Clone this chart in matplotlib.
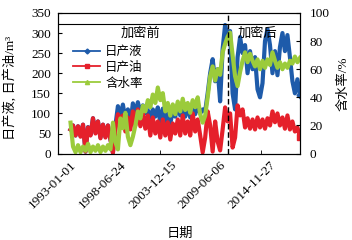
import numpy as np
import pandas as pd
import matplotlib
matplotlib.use('Agg')
import matplotlib.pyplot as plt
import matplotlib.dates as mdates
from matplotlib.lines import Line2D

plt.rcParams['font.family'] = ['Liberation Serif', 'Noto Sans CJK SC']
plt.rcParams['font.size'] = 9.5

# sampled every 100 days from 1993-01-01 (band high/low readings)
dates = pd.date_range('1993-01-01', periods=93, freq='100D')

liquid = [60, 70, 45, 68, 44, 72, 5, 66, 46, 88, 52, 80, 40, 72, 42, 70, 36,
          3, 70, 118, 95, 122, 85, 110, 75, 125, 100, 128, 102, 120, 100,
          108, 90, 110, 92, 115, 78, 112, 80, 110, 75, 105,
          92, 122, 95, 125, 92, 118, 90, 125, 98, 120,
          100, 110, 105, 150, 200, 235, 180, 210, 130,
          260, 320, 290, 305, 150, 110, 240, 290, 250, 270,
          200, 255, 210, 240, 160, 140, 175, 280, 310, 270,
          200, 255, 195, 265, 300, 255, 295, 240, 180, 150, 185, 145]

oil = [60, 70, 45, 68, 42, 72, 5, 65, 45, 88, 50, 80, 38, 72, 40, 70, 35,
       2, 60, 98, 85, 95, 55, 90, 60, 105, 70, 110, 68, 100, 62,
       95, 45, 90, 50, 80, 40, 85, 45, 78, 35, 75, 50, 85,
       45, 95, 50, 80, 45, 100, 55, 85, 45, 3, 40, 105, 70,
       5, 80, 30, 8, 60, 115, 80, 100, 15, 40, 120, 95, 110,
       65, 88, 62, 85, 60, 90, 65, 85, 62, 88, 70,
       105, 78, 100, 70, 90, 62, 95, 60, 80, 55, 65, 42]

water_cut = [22, 5, 1, 6, 1, 5, 2, 7, 1, 5, 2, 6, 1, 5, 2, 6, 3,
             22, 8, 3, 25, 18, 29, 12, 6, 12, 20, 30, 25, 34, 30,
             38, 33, 42, 36, 47, 38, 43, 30, 36, 27, 35, 28,
             37, 30, 39, 31, 36, 29, 38, 33, 40, 28, 22, 27,
             40, 55, 62, 52, 60, 56, 72, 78, 83, 86, 70, 55, 48, 58,
             66, 72, 65, 71, 66, 62, 67, 60, 66, 61, 67, 63,
             72, 66, 61, 65, 60, 64, 61, 66, 64, 69, 65, 68]

series_labels = ['日产液', '日产油', '含水率']
period_labels = ['加密前', '加密后']
infill_date = pd.Timestamp('2010-05-01')
tick_dates = pd.to_datetime(['1993-01-01', '1998-06-24', '2003-12-15',
                             '2009-06-06', '2014-11-27'])

c_blue = '#1E5BAA'
c_red = '#E5202B'
c_green = '#9BCB3B'

fig = plt.figure(figsize=(3.52, 2.40), dpi=100)
ax = fig.add_axes([0.165, 0.36, 0.687, 0.586])
ax2 = ax.twinx()

ax.plot(dates, liquid, color=c_blue, lw=3, marker='D', ms=3.5, markevery=[-1])
ax.plot(dates, oil, color=c_red, lw=3, marker='s', ms=4, markevery=[-1])
ax2.plot(dates, water_cut, color=c_green, lw=3, marker='^', ms=4, markevery=[-1])

ax.set_ylim(0, 350)
ax.set_yticks(np.arange(0, 351, 50))
ax2.set_ylim(0, 100)
ax2.set_yticks(np.arange(0, 101, 20))

ax.set_xlim(pd.Timestamp('1993-01-01') - pd.Timedelta(days=500),
            pd.Timestamp('1993-01-01') + pd.Timedelta(days=9200))
ax.set_xticks(tick_dates)
ax.xaxis.set_major_formatter(mdates.DateFormatter('%Y-%m-%d'))
ax.set_xticks(pd.to_datetime(['2002-11-10', '2013-12-01']), minor=True)
ax.tick_params(axis='x', which='major', length=0, pad=4, labelsize=9.5)
ax.tick_params(axis='x', which='minor', direction='in', length=3)
for lab in ax.get_xticklabels():
    lab.set_rotation(45)
    lab.set_ha('right')
    lab.set_rotation_mode('anchor')

ax.tick_params(axis='y', direction='in', length=3, pad=5, labelsize=9.5)
ax2.tick_params(axis='y', direction='in', length=3, pad=7, labelsize=9.5)

# header band
ax.axhline(322, color='black', lw=0.8)
ax2.axvline(infill_date, color='black', lw=1, ls=(0, (4, 2)), zorder=5)
ax.text(pd.Timestamp('1993-01-01') + pd.Timedelta(days=2800), 299, period_labels[0],
        ha='center', va='center', fontsize=9.5)
ax.text(pd.Timestamp('1993-01-01') + pd.Timedelta(days=7480), 299, period_labels[1],
        ha='center', va='center', fontsize=9.5)

ax.set_ylabel('日产液, 日产油/m³', fontsize=9.5)
ax.yaxis.set_label_coords(-0.17, 0.47)
ax2.set_ylabel('含水率/%', fontsize=9.5)
ax2.yaxis.set_label_coords(1.155, 0.5)
ax.set_xlabel('日期', fontsize=9.5)
ax.xaxis.set_label_coords(0.504, -0.53)

handles = [Line2D([], [], color=c_blue, lw=1.3, marker='D', ms=2.5),
           Line2D([], [], color=c_red, lw=1.3, marker='s', ms=3),
           Line2D([], [], color=c_green, lw=1.3, marker='^', ms=3)]
ax.legend(handles, series_labels, loc='upper left', bbox_to_anchor=(0.04, 0.8),
          frameon=False, fontsize=9, handlelength=2.2, labelspacing=0.3,
          handletextpad=0.4, borderaxespad=0)

fig.savefig('out.png', dpi=100)
